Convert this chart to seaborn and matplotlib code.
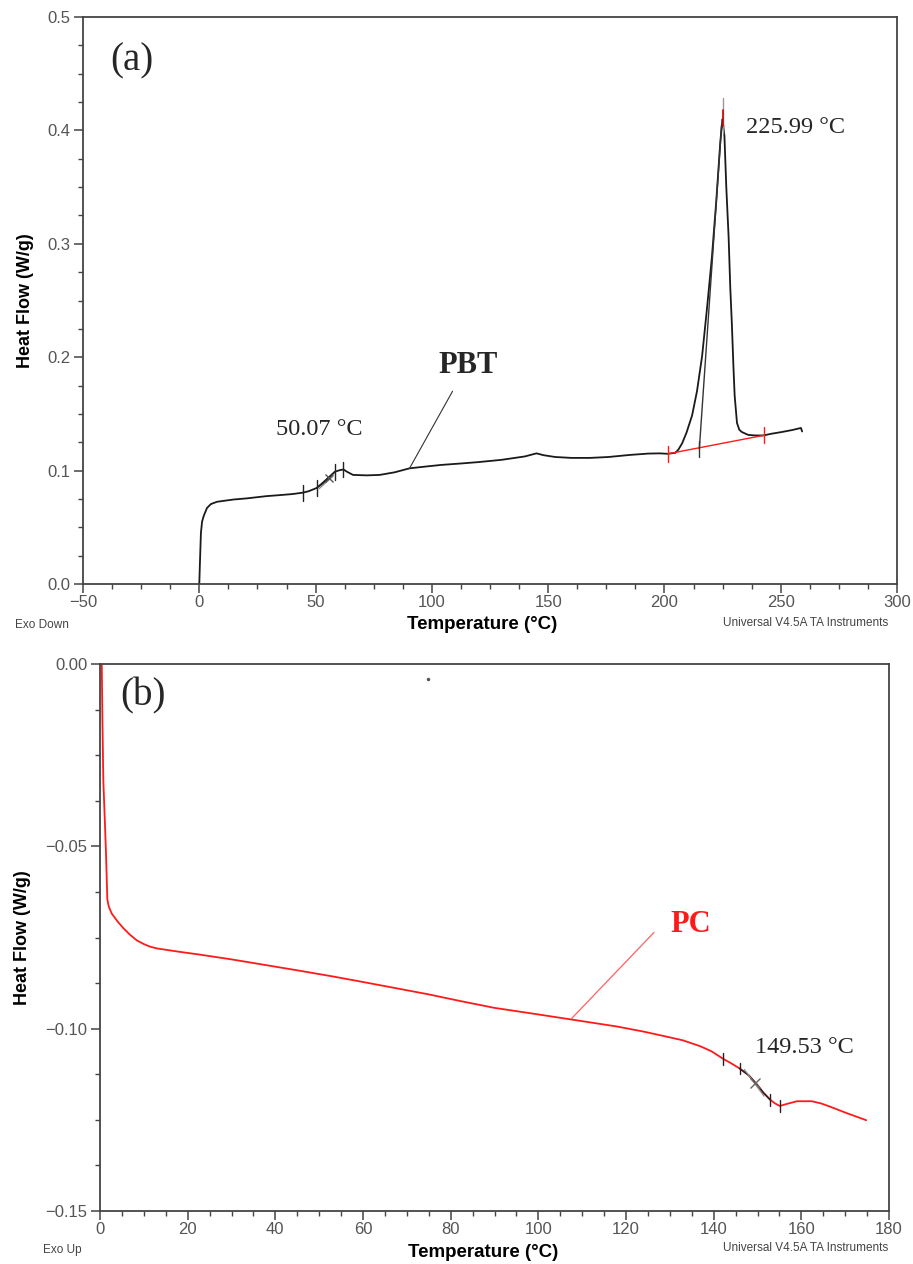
import numpy as np
import pandas as pd
import matplotlib
matplotlib.use("Agg")
from matplotlib import pyplot as plt
from matplotlib.ticker import MultipleLocator, FuncFormatter
import seaborn as sns

# ---- PBT heating trace (panel a) ----
PBT_T = [0.0, 0.3, 0.7, 1.2, 1.9, 3.3, 5.0, 7.6, 14.7, 20.4, 29.0, 34.7, 40.0, 44.4,
         47.0, 50.4, 53.0, 55.0, 58.3, 60.4, 62.0, 63.5, 66.1, 72.0, 77.6, 84.0,
         90.4, 97.0, 104.0, 112.0, 120.0, 130.0, 140.0, 145.0, 148.0, 153.0, 160.0,
         168.0, 176.0, 185.0, 193.0, 198.0, 201.5, 204.7, 206.0, 207.6, 209.5,
         211.9, 214.0, 216.2, 218.3, 220.4, 222.3, 224.0, 224.6, 225.0, 225.8,
         226.6, 227.6, 228.3, 229.0, 229.7, 230.2, 231.2, 232.2, 233.3, 236.0,
         239.0, 242.6, 246.0, 250.4, 255.0, 258.7, 259.2]
PBT_HF = [0.0, 0.020, 0.045, 0.055, 0.060, 0.067, 0.0705, 0.0725, 0.0745, 0.0755,
          0.0775, 0.0784, 0.0793, 0.0805, 0.0818, 0.0846, 0.0885, 0.0925, 0.0990,
          0.1004, 0.1010, 0.0990, 0.0962, 0.0958, 0.0962, 0.0985, 0.1020, 0.1035,
          0.1050, 0.1062, 0.1075, 0.1095, 0.1125, 0.1152, 0.1136, 0.1120, 0.1112,
          0.1112, 0.1120, 0.1138, 0.1150, 0.1152, 0.1148, 0.1157, 0.1185, 0.1240,
          0.1335, 0.1487, 0.1700, 0.2010, 0.2430, 0.2880, 0.3380, 0.3890, 0.4030,
          0.4100, 0.3950, 0.3500, 0.3060, 0.2620, 0.2290, 0.1900, 0.1660, 0.1420,
          0.1360, 0.1340, 0.1315, 0.1310, 0.1310, 0.1325, 0.1340, 0.1358, 0.1376,
          0.1345]

# ---- PC heating trace (panel b) ----
PC_T = [0.4, 0.55, 0.76, 1.14, 1.37, 1.67, 2.0, 2.66, 4.0, 5.3, 6.8, 8.4, 10.0,
        11.4, 13.0, 15.2, 18.0, 22.8, 30.0, 38.0, 45.0, 53.2, 60.0, 68.4, 75.0,
        82.1, 90.0, 100.0, 107.6, 117.9, 124.0, 129.3, 133.0, 136.9, 139.5, 142.2,
        144.0, 145.9, 148.0, 149.8, 151.3, 152.9, 154.0, 155.1, 156.5, 159.0,
        162.4, 164.5, 166.6, 170.0, 174.8]
PC_HF = [0.0, -0.015, -0.032, -0.0442, -0.052, -0.0645, -0.0665, -0.0684, -0.0706,
         -0.0724, -0.0742, -0.0758, -0.0768, -0.0775, -0.0780, -0.0784, -0.0789,
         -0.0797, -0.0810, -0.0826, -0.0840, -0.0857, -0.0872, -0.0891, -0.0906,
         -0.0924, -0.0943, -0.0961, -0.0975, -0.0994, -0.1008, -0.1022, -0.1032,
         -0.1048, -0.1062, -0.1083, -0.1095, -0.1109, -0.1128, -0.1152, -0.1175,
         -0.1195, -0.1205, -0.1212, -0.1207, -0.1199, -0.1199, -0.1205, -0.1214,
         -0.1230, -0.1251]

# analysis marks (temperature, heat flow)
PBT_TG_TICKS = [(44.4, 0.0805), (50.4, 0.0846), (58.3, 0.0990), (61.9, 0.1010)]
PBT_BASE = [(201.5, 0.1148), (243.0, 0.1312)]
PBT_ONSET = [(215.0, 0.1190), (224.6, 0.4050)]
PBT_PEAK_T = 225.0
PC_TG_TICKS = [(142.2, -0.1083), (145.9, -0.1109), (152.9, -0.1195), (155.1, -0.1212)]

W, H = 913, 1264
SANS = ["Liberation Sans", "DejaVu Sans"]
SERIF = ["Liberation Serif", "DejaVu Serif"]
AXC = "#444444"
TICKC = "#555555"
RED = "#ff1a1a"

sns.set_theme(style="ticks")
plt.rcParams["font.family"] = SANS


def uminus(fmt):
    return FuncFormatter(lambda v, p: (fmt % v).replace("-", "\u2212"))


def style_axes(ax, xmaj, xmin, ymaj, ymin, yfmt):
    for s in ax.spines.values():
        s.set_visible(True)
        s.set_color(AXC)
        s.set_linewidth(1.3)
    ax.xaxis.set_major_locator(MultipleLocator(xmaj))
    ax.xaxis.set_minor_locator(MultipleLocator(xmin))
    ax.yaxis.set_major_locator(MultipleLocator(ymaj))
    ax.yaxis.set_minor_locator(MultipleLocator(ymin))
    ax.xaxis.set_major_formatter(uminus("%g"))
    ax.yaxis.set_major_formatter(uminus(yfmt))
    ax.tick_params(which="major", length=6.5, width=1.1, color=AXC,
                   labelsize=12, labelcolor=TICKC, direction="out",
                   top=False, right=False)
    ax.tick_params(which="minor", length=3.5, width=1.0, color=AXC,
                   direction="out", top=False, right=False)
    ax.tick_params(axis="x", pad=1.5)
    ax.tick_params(axis="y", pad=2.5)
    ax.grid(False)


fig = plt.figure(figsize=(W / 100, H / 100), dpi=100)
axA = fig.add_axes([83 / W, 1 - 584 / H, (897 - 83) / W, (584 - 17) / H])
axB = fig.add_axes([100 / W, 1 - 1211 / H, (889 - 100) / W, (1211 - 664) / H])

# ---------------- panel (a) ----------------
sns.lineplot(x=PBT_T, y=PBT_HF, ax=axA, color="#1a1a1a", lw=1.3,
             sort=False, estimator=None)
axA.set_xlim(-50, 300)
axA.set_ylim(0, 0.5)
style_axes(axA, 50, 12.5, 0.1, 0.025, "%.1f")

dy = 0.007
for t, v in PBT_TG_TICKS:
    axA.plot([t, t], [v - dy, v + dy], color="#222222", lw=1.0)
axA.plot([50.4, 58.3], [0.0846, 0.0990], color="#222222", lw=1.0)
axA.plot([51.5, 57.5], [0.0840, 0.0950], color="#888888", lw=0.9)
axA.plot([55.6], [0.0935], marker="x", ms=6, color="#555555", mew=1.0)

(b0, v0), (b1, v1) = PBT_BASE
axA.plot([b0, b1], [v0, v1], color=RED, lw=1.0)
for t, v in PBT_BASE:
    axA.plot([t, t], [v - dy, v + dy], color=RED, lw=1.0)
(o0, w0), (o1, w1) = PBT_ONSET
axA.plot([o0, o1], [w0, w1], color="#333333", lw=1.0)
axA.plot([o0, o0], [w0 - dy, w0 + dy], color="#333333", lw=1.0)
axA.plot([PBT_PEAK_T, PBT_PEAK_T], [0.398, 0.429], color="#999999", lw=1.0)
axA.plot([PBT_PEAK_T, PBT_PEAK_T], [0.404, 0.418], color="#cc0000", lw=1.2)

axA.text(-29, 0.461, "(a)", family=SERIF, fontsize=28, ha="center", va="center")
axA.text(115.7, 0.193, "PBT", family=SERIF, fontsize=22, fontweight="bold",
         ha="center", va="center")
axA.plot([108.9, 90.4], [0.170, 0.102], color="#333333", lw=0.8)
axA.text(51.4, 0.136, "50.07 \u00b0C", family=SERIF, fontsize=17.5,
         ha="center", va="center")
axA.text(256.5, 0.4026, "225.99 \u00b0C", family=SERIF, fontsize=17.5,
         ha="center", va="center")

axA.set_xlabel("Temperature (\u00b0C)", fontsize=13.5, fontweight="bold", color="black")
axA.set_ylabel("Heat Flow (W/g)", fontsize=13, fontweight="bold", color="black")
axA.xaxis.set_label_coords(0.490, -0.057)
axA.yaxis.set_label_coords(-0.060, 0.5)

# ---------------- panel (b) ----------------
sns.lineplot(x=PC_T, y=PC_HF, ax=axB, color=RED, lw=1.3,
             sort=False, estimator=None)
axB.set_xlim(0, 180)
axB.set_ylim(-0.15, 0)
style_axes(axB, 20, 5, 0.05, 0.0125, "%.2f")

db = 0.0016
for t, v in PC_TG_TICKS:
    axB.plot([t, t], [v - db, v + db], color="#222222", lw=1.0)
axB.plot([145.9, 148.0, 149.8, 151.3, 152.9],
         [-0.1109, -0.1128, -0.1152, -0.1175, -0.1195], color="#222222", lw=1.1)
axB.plot([147.0, 151.5], [-0.1112, -0.1185], color="#888888", lw=0.9)
axB.plot([149.5], [-0.1150], marker="x", ms=7, color="#666666", mew=1.0)
axB.plot([74.9], [-0.0040], marker="o", ms=1.5, color="#555555")

axB.text(9.9, -0.0088, "(b)", family=SERIF, fontsize=28, ha="center", va="center")
axB.text(134.8, -0.0713, "PC", family=SERIF, fontsize=22, fontweight="bold",
         color=RED, ha="center", va="center")
axB.plot([126.4, 107.6], [-0.0736, -0.0972], color="#ff6060", lw=0.9)
axB.text(160.8, -0.1053, "149.53 \u00b0C", family=SERIF, fontsize=17.5,
         ha="center", va="center")

axB.set_xlabel("Temperature (\u00b0C)", fontsize=13.5, fontweight="bold", color="black")
axB.set_ylabel("Heat Flow (W/g)", fontsize=13, fontweight="bold", color="black")
axB.xaxis.set_label_coords(0.486, -0.061)
axB.yaxis.set_label_coords(-0.088, 0.5)

# instrument footers
def ftext(x, y, s):
    fig.text(x / W, 1 - y / H, s, fontsize=8.5, color="#444444",
             ha="left", va="center", family=SANS)

ftext(15, 625, "Exo Down")
ftext(723, 623, "Universal V4.5A TA Instruments")
ftext(43, 1250, "Exo Up")
ftext(723, 1248, "Universal V4.5A TA Instruments")

fig.savefig("out.png", dpi=100)
